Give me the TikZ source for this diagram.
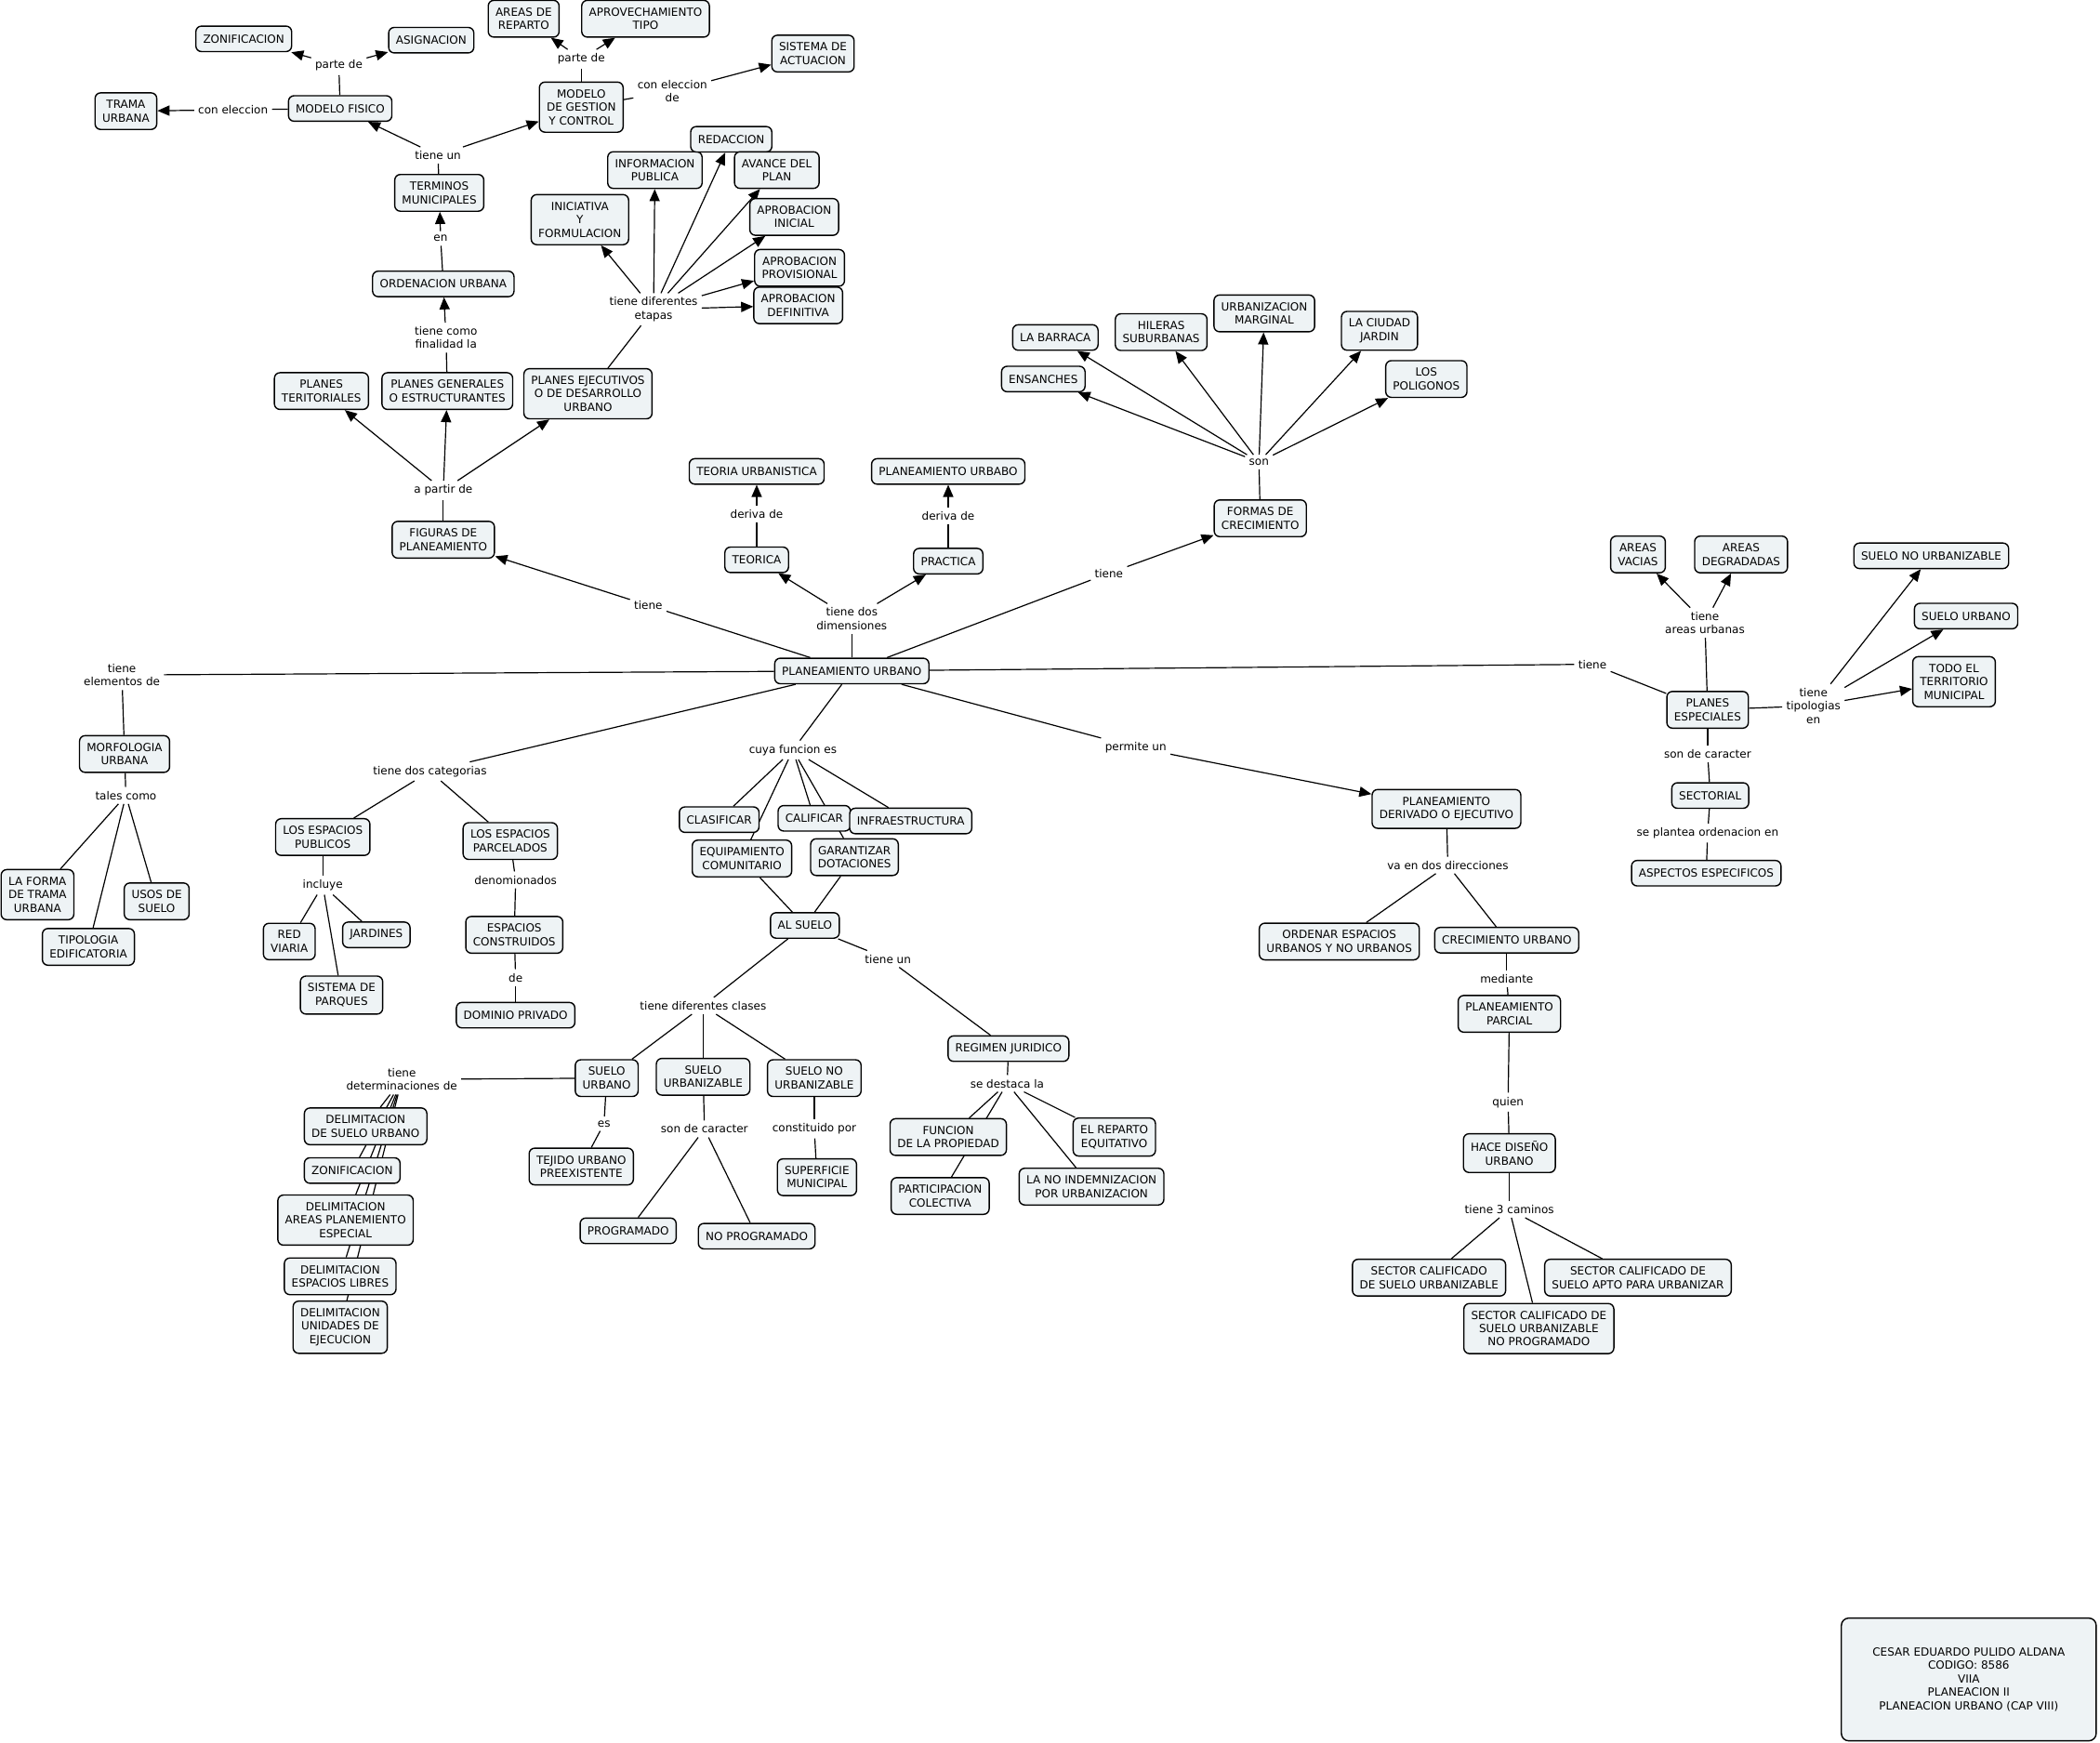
\documentclass[tikz,border=0pt]{standalone}
\usepackage{fontspec}
\setmainfont{DejaVu Sans}
\usetikzlibrary{arrows.meta}
\definecolor{boxfill}{RGB}{238,243,245}
\pgfdeclarelayer{bg}
\pgfsetlayers{bg,main}
\tikzset{
  box/.style={draw=black, line width=0.7pt, fill=boxfill, rounded corners=3pt, align=center,
    inner xsep=3.9pt, inner ysep=4pt, minimum height=13.7pt, font=\fontsize{6}{7.2}\selectfont},
  lbl/.style={align=center, inner sep=2pt, font=\fontsize{6}{7.2}\selectfont},
  ln/.style={line width=0.6pt},
  ar/.style={line width=0.6pt, -{Triangle[length=6.5pt,width=5.5pt]}},
}
\begin{document}
\begin{tikzpicture}[x=0.72pt,y=-0.72pt]
\useasboundingbox (0,0) rectangle (1568,1301);
% top-left cluster
\node[box] (zon1) at (182,29) {ZONIFICACION};
\node[box] (asig) at (322,30) {ASIGNACION};
\node[lbl] (pde1) at (253,49) {parte de};
\node[box] (mfis) at (254,81) {MODELO FISICO};
\node[box] (trama) at (94,83) {TRAMA\\URBANA};
\node[lbl] (cel1) at (174,82) {con eleccion};
\node[box] (areasrep) at (391,14) {AREAS DE\\REPARTO};
\node[box] (aprov) at (482,14) {APROVECHAMIENTO\\TIPO};
\node[lbl] (pde2) at (434,44) {parte de};
\node[box] (mges) at (434,80) {MODELO\\DE GESTION\\Y CONTROL};
\node[lbl] (cel2) at (502,68) {con eleccion\\de};
\node[box] (sist) at (607,40) {SISTEMA DE\\ACTUACION};
\node[lbl] (tun1) at (327,116) {tiene un};
\node[box] (term) at (328,144) {TERMINOS\\MUNICIPALES};
\node[lbl] (en) at (329,178) {en};
\node[box] (orden) at (331,212) {ORDENACION URBANA};
\node[lbl] (tcf) at (333,252) {tiene como\\finalidad la};
\node[box] (pter) at (240,292) {PLANES\\TERITORIALES};
\node[box] (pgen) at (334,292) {PLANES GENERALES\\O ESTRUCTURANTES};
\node[box] (pejec) at (439,294) {PLANES EJECUTIVOS\\O DE DESARROLLO\\URBANO};
\node[lbl] (apd) at (331,366) {a partir de};
\node[box] (fig) at (331,403) {FIGURAS DE\\PLANEAMIENTO};
\node[lbl] (tde) at (488,231) {tiene diferentes\\etapas};
\node[box] (inic) at (433,164) {INICIATIVA\\Y\\FORMULACION};
\node[box] (infp) at (489,127) {INFORMACION\\PUBLICA};
\node[box] (redac) at (546,104) {REDACCION};
\node[box] (avance) at (580,127) {AVANCE DEL\\PLAN};
\node[box] (apini) at (593,162) {APROBACION\\INICIAL};
\node[box] (approv) at (597,200) {APROBACION\\PROVISIONAL};
\node[box] (apdef) at (596,228) {APROBACION\\DEFINITIVA};
% middle
\node[box] (teoriau) at (565,352) {TEORIA URBANISTICA};
\node[lbl] (der1) at (565,384) {deriva de};
\node[box] (teorica) at (565,418) {TEORICA};
\node[box] (planurbabo) at (708,352) {PLANEAMIENTO URBABO};
\node[lbl] (der2) at (708,385) {deriva de};
\node[box] (practica) at (708,419) {PRACTICA};
\node[lbl] (tdd) at (636,462) {tiene dos\\dimensiones};
\node[box] (pu) at (636,501) {PLANEAMIENTO URBANO};
\node[lbl] (t1) at (484,452) {tiene};
\node[lbl] (t2) at (828,428) {tiene};
\node[box] (formas) at (941,387) {FORMAS DE\\CRECIMIENTO};
\node[lbl] (son) at (940,345) {son};
\node[box] (barraca) at (788,252) {LA BARRACA};
\node[box] (ensan) at (779,283) {ENSANCHES};
\node[box] (hileras) at (867,248) {HILERAS\\SUBURBANAS};
\node[box] (urbmarg) at (944,234) {URBANIZACION\\MARGINAL};
\node[box] (ciudad) at (1030,247) {LA CIUDAD\\JARDIN};
\node[box] (polig) at (1065,283) {LOS\\POLIGONOS};
% right
\node[lbl] (t3) at (1189,496) {tiene};
\node[box] (pesp) at (1275,530) {PLANES\\ESPECIALES};
\node[lbl] (tau) at (1273,465) {tiene\\areas urbanas};
\node[box] (avac) at (1223,414) {AREAS\\VACIAS};
\node[box] (adeg) at (1300,414) {AREAS\\DEGRADADAS};
\node[lbl] (tte) at (1354,527) {tiene\\tipologias\\en};
\node[box] (snu2) at (1442,415) {SUELO NO URBANIZABLE};
\node[box] (su2) at (1468,460) {SUELO URBANO};
\node[box] (todo) at (1459,509) {TODO EL\\TERRITORIO\\MUNICIPAL};
\node[lbl] (sdc1) at (1275,563) {son de caracter};
\node[box] (sect) at (1277,594) {SECTORIAL};
\node[lbl] (spo) at (1275,622) {se plantea ordenacion en};
\node[box] (aspec) at (1274,652) {ASPECTOS ESPECIFICOS};
% left
\node[lbl] (ted) at (91,504) {tiene\\elementos de};
\node[box] (morf) at (93,563) {MORFOLOGIA\\URBANA};
\node[lbl] (tc) at (94,594) {tales como};
\node[box] (forma) at (28,668) {LA FORMA\\DE TRAMA\\URBANA};
\node[box] (usos) at (117,673) {USOS DE\\SUELO};
\node[box] (tipol) at (66,707) {TIPOLOGIA\\EDIFICATORIA};
\node[lbl] (tdc) at (321,576) {tiene dos categorias};
\node[box] (epub) at (241,625) {LOS ESPACIOS\\PUBLICOS};
\node[lbl] (incl) at (241,661) {incluye};
\node[box] (red) at (216,703) {RED\\VIARIA};
\node[box] (jard) at (281,698) {JARDINES};
\node[box] (parq) at (255,743) {SISTEMA DE\\PARQUES};
\node[box] (epar) at (381,628) {LOS ESPACIOS\\PARCELADOS};
\node[lbl] (denom) at (385,657) {denomionados};
\node[box] (econs) at (384,698) {ESPACIOS\\CONSTRUIDOS};
\node[lbl] (de1) at (385,730) {de};
\node[box] (dompriv) at (385,758) {DOMINIO PRIVADO};
% center lower
\node[lbl] (cfe) at (592,560) {cuya funcion es};
\node[box] (clasif) at (537,612) {CLASIFICAR};
\node[box] (calif) at (608,611) {CALIFICAR};
\node[box] (infra) at (680,613) {INFRAESTRUCTURA};
\node[box] (equip) at (554,641) {EQUIPAMIENTO\\COMUNITARIO};
\node[box] (garan) at (638,640) {GARANTIZAR\\DOTACIONES};
\node[box] (alsuelo) at (601,691) {AL SUELO};
\node[lbl] (tun2) at (663,716) {tiene un};
\node[lbl] (tdcl) at (525,751) {tiene diferentes clases};
\node[box] (su1) at (453,805) {SUELO\\URBANO};
\node[box] (suz) at (525,804) {SUELO\\URBANIZABLE};
\node[box] (snu1) at (608,805) {SUELO NO\\URBANIZABLE};
\node[lbl] (tdet) at (300,806) {tiene\\determinaciones de};
\node[lbl] (es) at (451,839) {es};
\node[box] (tejido) at (434,871) {TEJIDO URBANO\\PREEXISTENTE};
\node[lbl] (sdc2) at (526,843) {son de caracter};
\node[box] (prog) at (469,919) {PROGRAMADO};
\node[box] (noprog) at (565,923) {NO PROGRAMADO};
\node[lbl] (cpor) at (608,843) {constituido por};
\node[box] (superf) at (610,879) {SUPERFICIE\\MUNICIPAL};
\node[box] (del1) at (273,841) {DELIMITACION\\DE SUELO URBANO};
\node[box] (zon2) at (263,874) {ZONIFICACION};
\node[box] (del2) at (258,911) {DELIMITACION\\AREAS PLANEMIENTO\\ESPECIAL};
\node[box] (del3) at (254,953) {DELIMITACION\\ESPACIOS LIBRES};
\node[box] (del4) at (254,991) {DELIMITACION\\UNIDADES DE\\EJECUCION};
\node[box] (regimen) at (753,783) {REGIMEN JURIDICO};
\node[lbl] (sdl) at (752,809) {se destaca la};
\node[box] (func) at (708,849) {FUNCION\\DE LA PROPIEDAD};
\node[box] (reparto) at (832,849) {EL REPARTO\\EQUITATIVO};
\node[box] (partic) at (702,893) {PARTICIPACION\\COLECTIVA};
\node[box] (noindem) at (815,886) {LA NO INDEMNIZACION\\POR URBANIZACION};
% lower right
\node[lbl] (pun) at (848,558) {permite un};
\node[box] (deriv) at (1080,604) {PLANEAMIENTO\\DERIVADO O EJECUTIVO};
\node[lbl] (vdd) at (1081,646) {va en dos direcciones};
\node[box] (ordenar) at (1000,703) {ORDENAR ESPACIOS\\URBANOS Y NO URBANOS};
\node[box] (crec) at (1125,702) {CRECIMIENTO URBANO};
\node[lbl] (med) at (1125,731) {mediante};
\node[box] (parcial) at (1127,757) {PLANEAMIENTO\\PARCIAL};
\node[lbl] (quien) at (1126,823) {quien};
\node[box] (hace) at (1127,861) {HACE DISEÑO\\URBANO};
\node[lbl] (t3c) at (1127,903) {tiene 3 caminos};
\node[box] (sc1) at (1067,954) {SECTOR CALIFICADO\\DE SUELO URBANIZABLE};
\node[box] (sc2) at (1223,954) {SECTOR CALIFICADO DE\\SUELO APTO PARA URBANIZAR};
\node[box] (sc3) at (1149,992) {SECTOR CALIFICADO DE\\SUELO URBANIZABLE\\NO PROGRAMADO};
\node[box, minimum width=137pt, minimum height=66pt, rounded corners=4pt] (autor) at (1470,1254)
  {CESAR EDUARDO PULIDO ALDANA\\CODIGO: 8586\\VIIA\\PLANEACION II\\PLANEACION URBANO (CAP VIII)};

\begin{pgfonlayer}{bg}
\draw[ln] (mfis) -- (pde1); \draw[ar] (pde1) -- (zon1); \draw[ar] (pde1) -- (asig);
\draw[ln] (mfis) -- (cel1); \draw[ar] (cel1) -- (trama);
\draw[ln] (mges) -- (pde2); \draw[ar] (pde2) -- (areasrep); \draw[ar] (pde2) -- (aprov);
\draw[ln] (mges) -- (cel2); \draw[ar] (cel2) -- (sist);
\draw[ln] (term) -- (tun1); \draw[ar] (tun1) -- (mfis); \draw[ar] (tun1) -- (mges);
\draw[ln] (orden) -- (en); \draw[ar] (en) -- (term);
\draw[ln] (pgen) -- (tcf); \draw[ar] (tcf) -- (orden);
\draw[ln] (pejec) -- (tde);
\foreach \n in {inic,infp,redac,avance,apini,approv,apdef} \draw[ar] (tde) -- (\n);
\draw[ln] (fig) -- (apd);
\foreach \n in {pter,pgen,pejec} \draw[ar] (apd) -- (\n);
\draw[ln] (pu) -- (t1); \draw[ar] (t1) -- (fig);
\draw[ln] (pu) -- (tdd); \draw[ar] (tdd) -- (teorica); \draw[ar] (tdd) -- (practica);
\draw[ln] (teorica) -- (der1); \draw[ar] (der1) -- (teoriau);
\draw[ln] (practica) -- (der2); \draw[ar] (der2) -- (planurbabo);
\draw[ln] (pu) -- (t2); \draw[ar] (t2) -- (formas);
\draw[ln] (formas) -- (son);
\foreach \n in {barraca,ensan,hileras,urbmarg,ciudad,polig} \draw[ar] (son) -- (\n);
\draw[ln] (pu) -- (t3); \draw[ln] (t3) -- (pesp);
\draw[ln] (pesp) -- (tau); \draw[ar] (tau) -- (avac); \draw[ar] (tau) -- (adeg);
\draw[ln] (pesp) -- (tte);
\foreach \n in {snu2,su2,todo} \draw[ar] (tte) -- (\n);
\draw[ln] (pesp) -- (sdc1); \draw[ln] (sdc1) -- (sect);
\draw[ln] (sect) -- (spo); \draw[ln] (spo) -- (aspec);
\draw[ln] (pu) -- (ted); \draw[ln] (ted) -- (morf);
\draw[ln] (morf) -- (tc);
\foreach \n in {forma,tipol,usos} \draw[ln] (tc) -- (\n);
\draw[ln] (pu) -- (tdc); \draw[ln] (tdc) -- (epub); \draw[ln] (tdc) -- (epar);
\draw[ln] (epub) -- (incl);
\foreach \n in {red,parq,jard} \draw[ln] (incl) -- (\n);
\draw[ln] (epar) -- (denom); \draw[ln] (denom) -- (econs);
\draw[ln] (econs) -- (de1); \draw[ln] (de1) -- (dompriv);
\draw[ln] (pu) -- (cfe);
\foreach \n in {clasif,equip,calif,garan,infra} \draw[ln] (cfe) -- (\n);
\draw[ln] (equip) -- (alsuelo); \draw[ln] (garan) -- (alsuelo);
\draw[ln] (alsuelo) -- (tdcl);
\foreach \n in {su1,suz,snu1} \draw[ln] (tdcl) -- (\n);
\draw[ln] (alsuelo) -- (tun2); \draw[ln] (tun2) -- (regimen);
\draw[ln] (su1) -- (tdet);
\foreach \n in {del1,zon2,del2,del3,del4} \draw[ln] (tdet) -- (\n);
\draw[ln] (su1) -- (es); \draw[ln] (es) -- (tejido);
\draw[ln] (suz) -- (sdc2); \draw[ln] (sdc2) -- (prog); \draw[ln] (sdc2) -- (noprog);
\draw[ln] (snu1) -- (cpor); \draw[ln] (cpor) -- (superf);
\draw[ln] (regimen) -- (sdl);
\foreach \n in {func,partic,noindem,reparto} \draw[ln] (sdl) -- (\n);
\draw[ln] (pu) -- (pun); \draw[ar] (pun) -- (deriv);
\draw[ln] (deriv) -- (vdd); \draw[ln] (vdd) -- (ordenar); \draw[ln] (vdd) -- (crec);
\draw[ln] (crec) -- (med); \draw[ln] (med) -- (parcial);
\draw[ln] (parcial) -- (quien); \draw[ln] (quien) -- (hace);
\draw[ln] (hace) -- (t3c);
\foreach \n in {sc1,sc3,sc2} \draw[ln] (t3c) -- (\n);
\end{pgfonlayer}
\end{tikzpicture}
\end{document}
